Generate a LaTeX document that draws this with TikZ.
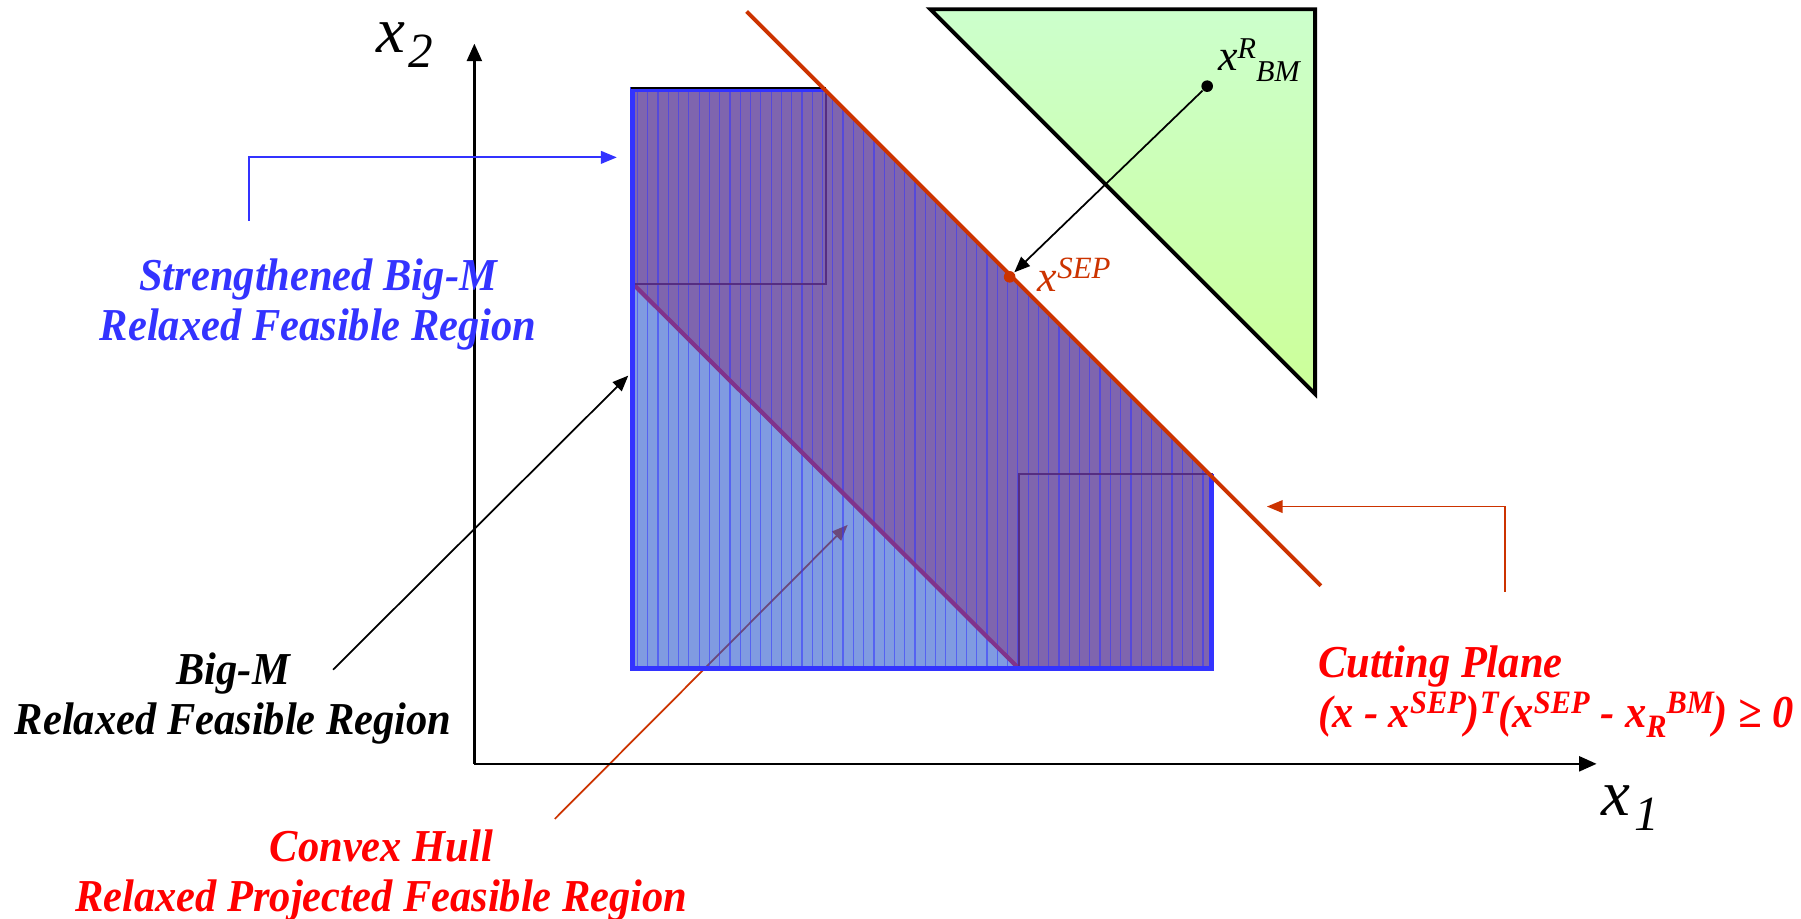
\documentclass[tikz,border=0pt]{standalone}
\usepackage{fontspec}
\setmainfont{Liberation Serif}
\newfontfamily\lblfont[FakeStretch=0.93]{Liberation Serif}
\usetikzlibrary{arrows.meta}
\definecolor{cblue}{RGB}{51,51,255}
\definecolor{cred}{RGB}{255,0,0}
\definecolor{corange}{RGB}{204,51,0}
\definecolor{bmfill}{RGB}{43,88,205}
\definecolor{hullfill}{RGB}{127,67,142}
\definecolor{hullline}{RGB}{128,51,140}
\definecolor{sqline}{RGB}{85,45,130}
\definecolor{gtop}{RGB}{204,255,204}
\definecolor{gbot}{RGB}{204,255,153}
\newcommand{\upsc}[1]{\raisebox{3.9pt}{\fontsize{9.3}{9.3}\selectfont #1}}
\newcommand{\dnsc}[1]{\raisebox{-2.7pt}{\fontsize{9.3}{9.3}\selectfont #1}}
\begin{document}
\begin{tikzpicture}[x=0.011486cm,y=-0.011486cm,
  lbl/.style={font=\lblfont\fontsize{13}{14.3}\selectfont\bfseries\itshape, align=center, inner sep=0pt},
  axlbl/.style={font=\fontsize{18.5}{20}\selectfont\itshape, inner sep=0pt, anchor=base west},
  ptlbl/.style={font=\fontsize{12.5}{14}\selectfont\itshape, inner sep=0pt, anchor=base west},
  tipa/.style={-{Triangle[length=4.5pt,width=3.6pt]}},
  axis/.style={line width=0.65pt, -{Triangle[length=5pt,width=4.3pt]}},
  conn/.style={line width=0.5pt, tipa},
  dot/.style={circle, inner sep=0pt, minimum size=3.3pt}
]
\useasboundingbox (0,0) rectangle (1568,800);

% key points
\coordinate (P1) at (551,78);
\coordinate (P2) at (719,78);
\coordinate (P3) at (1055,413);
\coordinate (P4) at (1055,582);
\coordinate (P5) at (551,582);
\coordinate (H6) at (551,247);
\coordinate (H4) at (887,582);

% connector underneath the translucent fill
\coordinate (chStart) at (483,713);
\coordinate (chEnd) at (738,457);
\draw[conn, corange] (chStart) -- (chEnd);

% big-M region fill
\fill[bmfill, opacity=0.6] (P1) -- (P2) -- (P3) -- (P4) -- (P5) -- cycle;
% convex hull fill
\fill[hullfill, opacity=0.6] (P1) -- (P2) -- (P3) -- (P4) -- (H4) -- (H6) -- cycle;
% vertical hatch
\begin{scope}
  \clip (P1) -- (P2) -- (P3) -- (P4) -- (P5) -- cycle;
  \foreach \xx in {555,563.95,...,1060} {
    \draw[cblue, opacity=0.55, line width=0.35pt] (\xx,70) -- (\xx,590);
  }
\end{scope}
% hull diagonal
\draw[hullline, line width=1.2pt] (H6) -- (H4);
% small squares
\draw[sqline, line width=0.6pt] (P1) rectangle (719,247);
\draw[sqline, line width=0.6pt] (887,413) rectangle (P4);
% big-M border
\draw[cblue, line width=1.4pt] (P2) -- (P1) -- (P5) -- (P4) -- (P3);
\draw[black, line width=0.5pt] (549,76.5) -- (719,76.5);

% axes
\coordinate (O) at (413,665);
\coordinate (Ytip) at (413,38);
\coordinate (Xtip) at (1390,665);
\draw[axis] (O) -- (Ytip);
\draw[axis] (O) -- (Xtip);
\node[axlbl] (x2) at (327,46) {x\hspace{1pt}\raisebox{-4.2pt}{\fontsize{14}{14}\selectfont 2}};
\node[axlbl] (x1) at (1394,710) {x\hspace{1pt}\raisebox{-4.2pt}{\fontsize{14}{14}\selectfont 1}};

% green triangle
\shade[top color=gtop, bottom color=gbot] (810,8) -- (1145,8) -- (1145,343) -- cycle;
\draw[black, line width=1.1pt, line join=miter] (810,8) -- (1145,8) -- (1145,343) -- cycle;

% cutting plane line
\coordinate (cutA) at (650,10);
\coordinate (cutB) at (1150,510);
\draw[corange, line width=1.1pt] (cutA) -- (cutB);

% points
\node[dot, fill=black] (xbm) at (1051,75) {};
\node[dot, fill=corange] (xsep) at (879,241) {};
\draw[conn, black] (xbm) -- (xsep);
\node[ptlbl] (xbmlbl) at (1060,61) {x\raisebox{3.3pt}{\fontsize{8.6}{8.6}\selectfont R}\raisebox{-3.3pt}{\fontsize{8.6}{8.6}\selectfont BM}};
\node[ptlbl, text=corange] (xseplbl) at (903,254) {x\raisebox{3.9pt}{\fontsize{8.8}{8.8}\selectfont SEP}};

% labels
\node[lbl, text=cblue] (sbm) at (277,265) {Strengthened Big-M\\Relaxed Feasible Region};
\node[lbl, text=black] (bm) at (203,608) {Big-M\\Relaxed Feasible Region};
\node[lbl, text=cred] (ch) at (332,762) {Convex Hull\\Relaxed Projected Feasible Region};
\node[lbl, text=cred, align=left, anchor=west] (cp) at (1147,602) {Cutting Plane\\(x - x\upsc{SEP})\upsc{T}(x\upsc{SEP} - x\dnsc{R}\upsc{BM}) ≥ 0};

% label connectors
\coordinate (sbStart) at (217,192);
\coordinate (sbEnd) at (537,137);
\draw[conn, cblue] (sbStart) |- (sbEnd);
\coordinate (bmStart) at (290,583);
\coordinate (bmEnd) at (547,327);
\draw[conn, black] (bmStart) -- (bmEnd);
\coordinate (cpStart) at (1310,515);
\coordinate (cpEnd) at (1103,441);
\draw[conn, corange] (cpStart) |- (cpEnd);
\end{tikzpicture}
\end{document}
